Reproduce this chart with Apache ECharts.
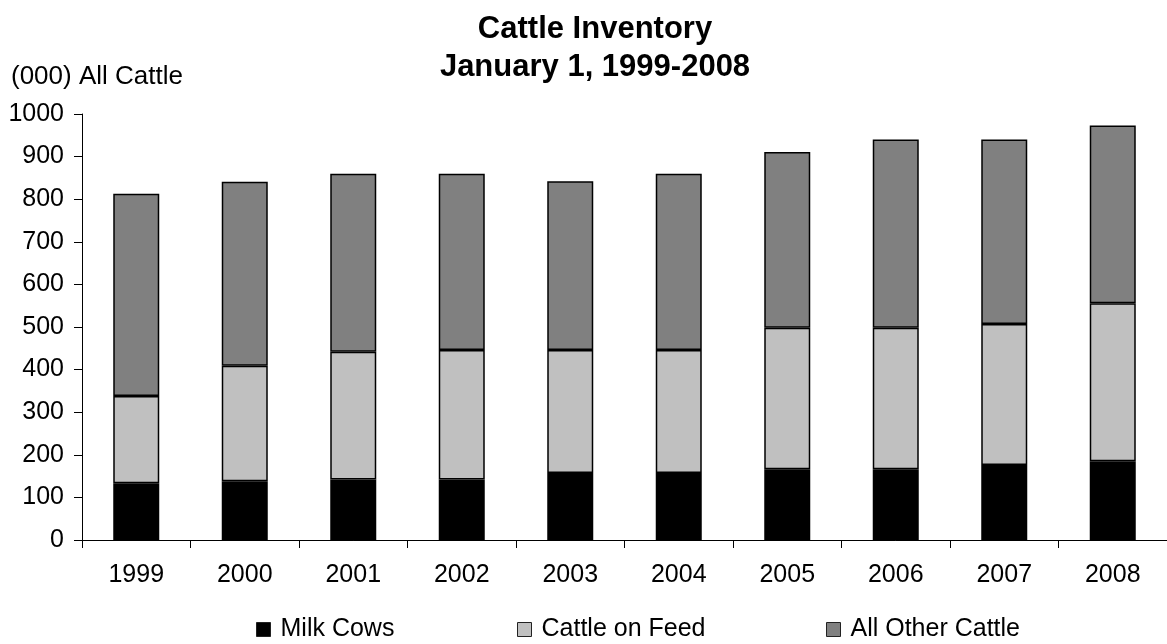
<!DOCTYPE html>
<html>
<head>
<meta charset="utf-8">
<script src="https://cdn.jsdelivr.net/npm/echarts@6/dist/echarts.min.js"></script>
<style>
html,body{margin:0;padding:0;background:#fff;}
#chart{width:1167px;height:644px;}
</style>
</head>
<body>
<div id="chart"></div>
<script>
const years = ['1999','2000','2001','2002','2003','2004','2005','2006','2007','2008'];
const milkCows = [133, 138, 142, 142, 157, 157, 166, 166, 176, 185];
const cattleOnFeed = [205, 271, 300, 304, 289, 289, 332, 332, 331, 371];
const allOtherCattle = [475, 432, 418, 414, 396, 414, 413, 442, 433, 417];
const yTicks = [0, 1000, 100];

const FONT = 'Liberation Sans, Arial, Helvetica, sans-serif';
const chart = echarts.init(document.getElementById('chart'), null, {renderer: 'canvas'});

const barStyle = (c) => ({color: c, borderColor: '#000', borderWidth: 1.5});

function legendAt(name, left) {
  return {
    data: [name], left: left, top: 612, itemWidth: 14, itemHeight: 14, itemGap: 4,
    icon: 'rect',
    itemStyle: {borderColor: '#222', borderWidth: 1},
    textStyle: {fontFamily: FONT, fontSize: 25, color: '#000', padding: [0,0,0,5]}
  };
}

chart.setOption({
  animation: false,
  backgroundColor: '#fff',
  title: [
    {
      text: 'Cattle Inventory\nJanuary 1, 1999-2008',
      left: 590, top: 5, textAlign: 'center',
      textStyle: {fontFamily: FONT, fontSize: 31, fontWeight: 'bold', color: '#000', lineHeight: 38}
    },
    {
      text: '(000) All Cattle', left: 6, top: 59,
      textStyle: {fontFamily: FONT, fontSize: 26, fontWeight: 'normal', color: '#000'}
    }
  ],
  legend: [
    legendAt('Milk Cows', 251),
    legendAt('Cattle on Feed', 512),
    legendAt('All Other Cattle', 821)
  ],
  grid: {left: 82, top: 114, width: 1097, height: 426, containLabel: false},
  xAxis: {
    type: 'category', data: years,
    axisLine: {lineStyle: {color: '#000', width: 1}},
    axisTick: {show: true, alignWithLabel: false, length: 8, lineStyle: {color: '#000'}},
    axisLabel: {fontFamily: FONT, fontSize: 25, color: '#000', margin: 23}
  },
  yAxis: {
    type: 'value', min: yTicks[0], max: yTicks[1], interval: yTicks[2],
    axisLine: {show: true, lineStyle: {color: '#000', width: 1}},
    axisTick: {show: true, length: 8, lineStyle: {color: '#000'}},
    axisLabel: {fontFamily: FONT, fontSize: 25, color: '#000', margin: 18, formatter: (v) => String(v)},
    splitLine: {show: false}
  },
  series: [
    {name: 'Milk Cows', type: 'bar', stack: 'all', data: milkCows, barWidth: 46, itemStyle: barStyle('#000000')},
    {name: 'Cattle on Feed', type: 'bar', stack: 'all', data: cattleOnFeed, barWidth: 46, itemStyle: barStyle('#c0c0c0')},
    {name: 'All Other Cattle', type: 'bar', stack: 'all', data: allOtherCattle, barWidth: 46, itemStyle: barStyle('#808080')}
  ]
});
</script>
</body>
</html>
